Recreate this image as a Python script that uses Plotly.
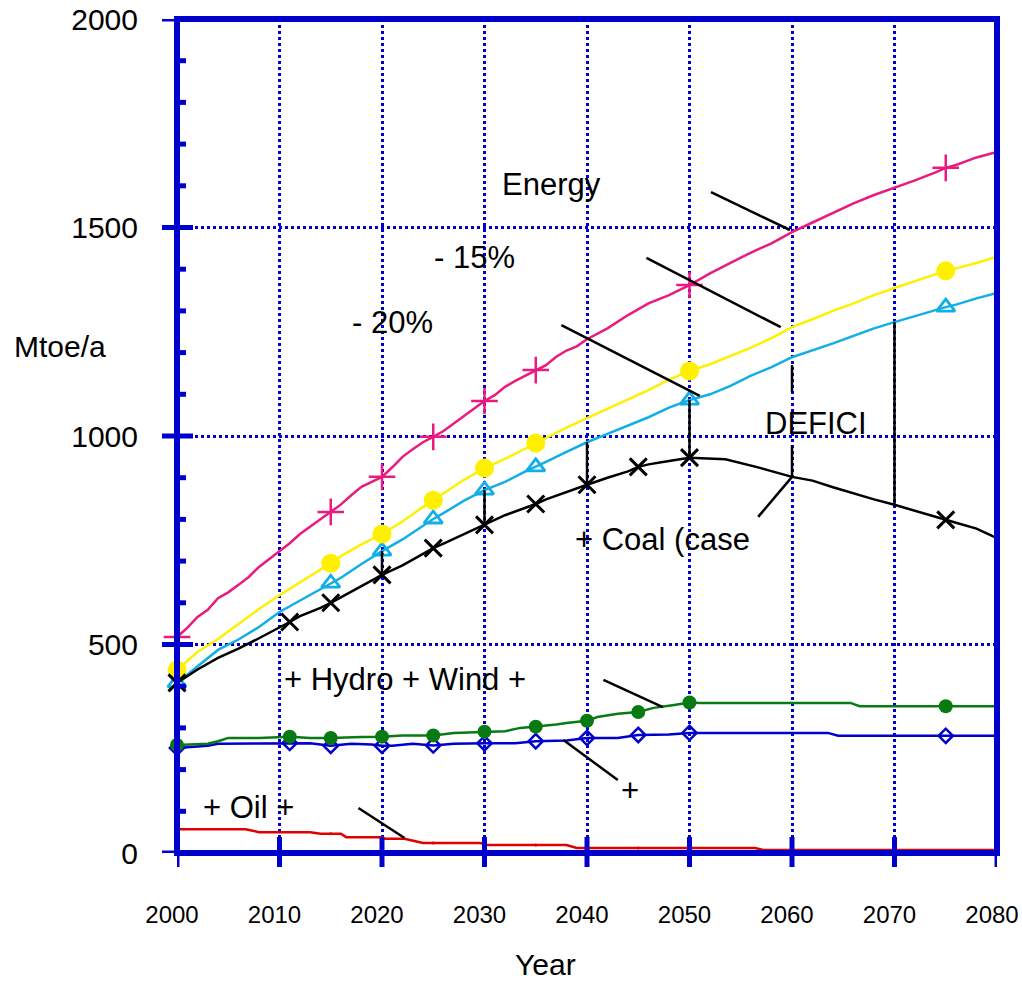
import plotly.graph_objects as go

# ---- Energy demand and supply series (Mtoe/a) ----
energy_years = [2000, 2001, 2002, 2003, 2004, 2005, 2006, 2007, 2008, 2009, 2010, 2011, 2012, 2013, 2014,
                2015, 2016, 2017, 2018, 2019, 2020, 2021, 2022, 2023, 2024, 2025, 2026, 2027, 2028, 2029,
                2030, 2031, 2032, 2033, 2034, 2035, 2036, 2037, 2038, 2039, 2040, 2042, 2044, 2046, 2048,
                2050, 2052, 2054, 2056, 2058, 2060, 2062, 2064, 2066, 2068, 2070, 2072, 2074, 2075, 2076,
                2078, 2080]
energy_vals = [518, 540, 566, 583, 611, 625, 643, 662, 686, 705, 722, 743, 765, 783, 800,
               818, 836, 858, 878, 890, 902, 925, 950, 968, 985, 998, 1012, 1030, 1048, 1068,
               1084, 1098, 1118, 1132, 1145, 1158, 1170, 1190, 1205, 1215, 1232, 1258, 1290, 1318, 1338,
               1362, 1390, 1415, 1440, 1462, 1489, 1512, 1535, 1558, 1578, 1595, 1613, 1632, 1643, 1650,
               1668, 1681]

minus15_years = [2000, 2002, 2004, 2006, 2008, 2010, 2012, 2014, 2015, 2016, 2018, 2020, 2022, 2024, 2025,
                 2026, 2028, 2030, 2032, 2034, 2035, 2036, 2038, 2040, 2042, 2044, 2046, 2048, 2050, 2052,
                 2054, 2056, 2058, 2060, 2062, 2064, 2066, 2068, 2070, 2072, 2074, 2075, 2076, 2078, 2080]
minus15_vals = [439, 482, 513, 550, 585, 618, 648, 680, 695, 712, 740, 765, 795, 830, 846,
                862, 895, 923, 945, 970, 983, 995, 1020, 1043, 1065, 1088, 1110, 1135, 1156, 1172,
                1192, 1212, 1235, 1261, 1280, 1300, 1318, 1338, 1355, 1372, 1388, 1396, 1402, 1415, 1430]

minus20_years = [2000, 2002, 2004, 2006, 2008, 2010, 2012, 2014, 2015, 2016, 2018, 2020, 2022, 2024, 2025,
                 2026, 2028, 2030, 2032, 2034, 2035, 2036, 2038, 2040, 2042, 2044, 2046, 2048, 2050, 2052,
                 2054, 2056, 2058, 2060, 2062, 2064, 2066, 2068, 2070, 2072, 2074, 2075, 2076, 2078, 2080]
minus20_vals = [408, 448, 487, 512, 542, 578, 605, 632, 647, 660, 693, 724, 752, 785, 801,
                815, 845, 870, 890, 915, 926, 938, 962, 985, 1005, 1025, 1045, 1068, 1086, 1100,
                1120, 1145, 1165, 1189, 1205, 1222, 1240, 1258, 1273, 1288, 1302, 1309, 1315, 1330, 1343]

coal_years = [2000, 2002, 2004, 2006, 2008, 2010, 2011, 2012, 2014, 2015, 2016, 2018, 2020, 2022, 2024,
              2025, 2026, 2028, 2030, 2032, 2034, 2035, 2036, 2038, 2040, 2042, 2044, 2045, 2046, 2048,
              2050, 2053.5, 2056.5, 2060, 2062, 2064, 2066, 2068, 2070, 2072, 2074, 2075, 2076, 2078, 2080]
coal_vals = [408, 440, 468, 490, 515, 540, 554, 568, 588, 600, 613, 640, 667, 690, 718,
             731, 742, 765, 787, 810, 828, 837, 848, 866, 883, 900, 915, 926, 932, 940,
             948, 944, 926, 902, 893, 877, 862, 848, 835, 820, 806, 799, 792, 778, 755]

hydro_wind_years = [2000, 2002, 2003, 2004, 2005, 2008, 2011, 2013, 2015, 2018, 2020, 2022, 2025, 2027, 2030,
                    2032, 2033.5, 2035, 2037, 2038, 2040, 2041, 2043, 2045, 2046.5, 2048.5, 2050, 2051,
                    2065.7, 2066.6, 2075, 2080]
hydro_wind_vals = [259, 260, 262, 268, 276, 276, 279, 276, 276, 278, 279, 282, 282, 288, 291,
                   292, 300, 303, 308, 312, 317, 326, 334, 338, 348, 355, 361, 360,
                   360, 352, 352, 352]

hydro_years = [2000, 2003, 2004, 2011, 2013, 2015, 2017, 2019, 2020, 2021, 2023, 2025, 2027, 2030, 2033,
               2035, 2038, 2040, 2043, 2045, 2048, 2050, 2063.5, 2064.5, 2075, 2080]
hydro_vals = [252, 257, 262, 264, 263, 257, 262, 260, 257, 257, 262, 258, 262, 263, 263,
              268, 270, 276, 276, 283, 284, 288, 288, 281, 281, 281]

oil_years = [2000, 2006.7, 2008, 2013, 2014, 2015, 2016, 2016.5, 2020, 2020.3, 2022.2, 2024, 2025, 2029.6,
             2030.3, 2035, 2038, 2039, 2045, 2056.4, 2057.2, 2080]
oil_vals = [57, 57, 50, 50, 46, 46, 46, 38, 38, 34, 34, 24, 24, 24,
            19, 19, 19, 12, 12, 12, 7, 7]

# Years carrying a symbol on each curve
demand_marker_years = [2000, 2015, 2020, 2025, 2030, 2035, 2050, 2075]
supply_marker_years = [2000, 2011, 2015, 2020, 2025, 2030, 2035, 2040, 2045, 2050, 2075]
oil_marker_years = [2015, 2025, 2035, 2045]

# Years where the deficit (-20% demand minus coal case) is drawn
deficit_years = [2020, 2030, 2040, 2050, 2060, 2070]

x_ticks = list(range(2000, 2081, 10))
y_major = [0, 500, 1000, 1500, 2000]

FONT = "Arial, Liberation Sans, sans-serif"
AXIS_BLUE = "#0000CC"

W, H = 1022, 984
L, R, T, B = 177, 25, 19, 131


def pick(years, vals, wanted):
    lookup = dict(zip(years, vals))
    return [y for y in wanted if y in lookup], [lookup[y] for y in wanted if y in lookup]


fig = go.Figure()


def add_curve(years, vals, color, width, mk_years, symbol, size, filled, mk_line=2.5):
    fig.add_trace(go.Scatter(x=years, y=vals, mode="lines",
                             line=dict(color=color, width=width), cliponaxis=False,
                             hoverinfo="skip", showlegend=False))
    mx, my = pick(years, vals, mk_years)
    marker = dict(symbol=symbol, size=size, color=color,
                  line=dict(color=color, width=mk_line if not filled else 0))
    fig.add_trace(go.Scatter(x=mx, y=my, mode="markers", marker=marker,
                             cliponaxis=False, hoverinfo="skip", showlegend=False))


add_curve(oil_years, oil_vals, "#E10000", 2.5, oil_marker_years, "circle", 3, True)
add_curve(hydro_years, hydro_vals, AXIS_BLUE, 2.5, supply_marker_years, "diamond-open", 11, False)
add_curve(hydro_wind_years, hydro_wind_vals, "#087A12", 2.5, supply_marker_years, "circle", 14, True)
add_curve(minus20_years, minus20_vals, "#12AEE6", 2.5, demand_marker_years, "triangle-up-open", 16, False, 2.8)
add_curve(minus15_years, minus15_vals, "#FFF000", 2.5, demand_marker_years, "circle", 19, True)
add_curve(energy_years, energy_vals, "#EA1A7E", 2.5, demand_marker_years, "cross-thin-open", 19, False)
add_curve(coal_years, coal_vals, "#000000", 2.5, supply_marker_years, "x-thin-open", 17, False, 3)

shapes = []

# Deficit bars between the -20% demand curve and the coal-case supply
d20 = dict(zip(minus20_years, minus20_vals))
dcoal = dict(zip(coal_years, coal_vals))
label_gap = (978, 1105)  # interval left free for the DEFICI label
for yr in deficit_years:
    top, bottom = d20[yr], dcoal[yr]
    if yr == 2060:
        segs = [(bottom, label_gap[0]), (label_gap[1], top - 19)]
    else:
        segs = [(bottom, top)]
    for y0, y1 in segs:
        shapes.append(dict(type="line", xref="x", yref="y", x0=yr, x1=yr, y0=y0, y1=y1,
                           line=dict(color="black", width=2.5)))

# Leader lines from labels to curves (year, value pairs)
leaders = [
    ((2052.1, 1585), (2059.8, 1494)),
    ((2045.8, 1427), (2058.9, 1261)),
    ((2037.5, 1266), (2051.0, 1096)),
    ((2056.7, 806), (2060.0, 902)),
    ((2041.6, 415), (2047.4, 350)),
    ((2037.7, 271), (2043.0, 175)),
    ((2017.7, 108), (2022.2, 36)),
]
for (x0, y0), (x1, y1) in leaders:
    shapes.append(dict(type="line", xref="x", yref="y", x0=x0, y0=y0, x1=x1, y1=y1,
                       line=dict(color="black", width=2.5)))

# Frame
shapes.append(dict(type="rect", xref="paper", yref="paper", x0=0, x1=1, y0=0, y1=1,
                   line=dict(color=AXIS_BLUE, width=6), layer="above"))

pw = W - L - R
ph = H - T - B
# Y axis ticks: majors cross the axis, minors point inward
for v in range(0, 2001, 100):
    if v in y_major:
        x0, x1 = -15 / pw, 16 / pw
    else:
        x0, x1 = 0, 9 / pw
    shapes.append(dict(type="line", xref="paper", yref="y", x0=x0, x1=x1, y0=v, y1=v,
                       line=dict(color=AXIS_BLUE, width=5)))
# X axis ticks crossing the axis
for yr in x_ticks:
    shapes.append(dict(type="line", xref="x", yref="paper", x0=yr, x1=yr, y0=16 / ph, y1=-14 / ph,
                       line=dict(color=AXIS_BLUE, width=5)))

annotations = []
labels = [
    ("Energy", 2036.5, 1604),
    ("- 15%", 2029.0, 1427),
    ("- 20%", 2021.0, 1273),
    ("DEFICI", 2062.3, 1029),
    ("+ Coal (case", 2047.4, 751),
    ("+ Hydro + Wind +", 2022.2, 415),
    ("+", 2044.2, 151),
    ("+ Oil +", 2007.0, 108),
]
for text, x, y in labels:
    annotations.append(dict(text=text, x=x, y=y, xref="x", yref="y", showarrow=False,
                            xanchor="center", yanchor="middle",
                            font=dict(family=FONT, size=31, color="black")))

annotations.append(dict(text="Mtoe/a", x=(12 - L) / pw, y=(H - B - 346) / ph, xref="paper", yref="paper",
                        showarrow=False, xanchor="left", yanchor="middle",
                        font=dict(family=FONT, size=30, color="black")))
annotations.append(dict(text="Year", x=(545 - L) / pw, y=(H - B - 982) / ph, xref="paper", yref="paper",
                        showarrow=False, xanchor="center", yanchor="bottom", borderpad=0,
                        font=dict(family=FONT, size=30, color="black")))

fig.update_layout(
    width=W, height=H,
    margin=dict(l=L, r=R, t=T, b=B, pad=0, autoexpand=False),
    paper_bgcolor="white", plot_bgcolor="white",
    showlegend=False,
    shapes=shapes, annotations=annotations,
    xaxis=dict(range=[2000, 2080], tickvals=x_ticks, ticktext=[str(v) for v in x_ticks],
               showgrid=True, gridcolor=AXIS_BLUE, gridwidth=3, griddash="dot",
               zeroline=False, showline=False, ticks="", automargin=False,
               ticklabelstandoff=45, ticklabelshift=-5,
               tickfont=dict(family=FONT, size=24, color="black")),
    yaxis=dict(range=[0, 2000], tickvals=y_major, ticktext=[str(v) for v in y_major],
               showgrid=True, gridcolor=AXIS_BLUE, gridwidth=3, griddash="dot",
               zeroline=False, showline=False, ticks="", automargin=False,
               ticklabelstandoff=38,
               tickfont=dict(family=FONT, size=30, color="black")),
)

fig.write_html("out.html")
